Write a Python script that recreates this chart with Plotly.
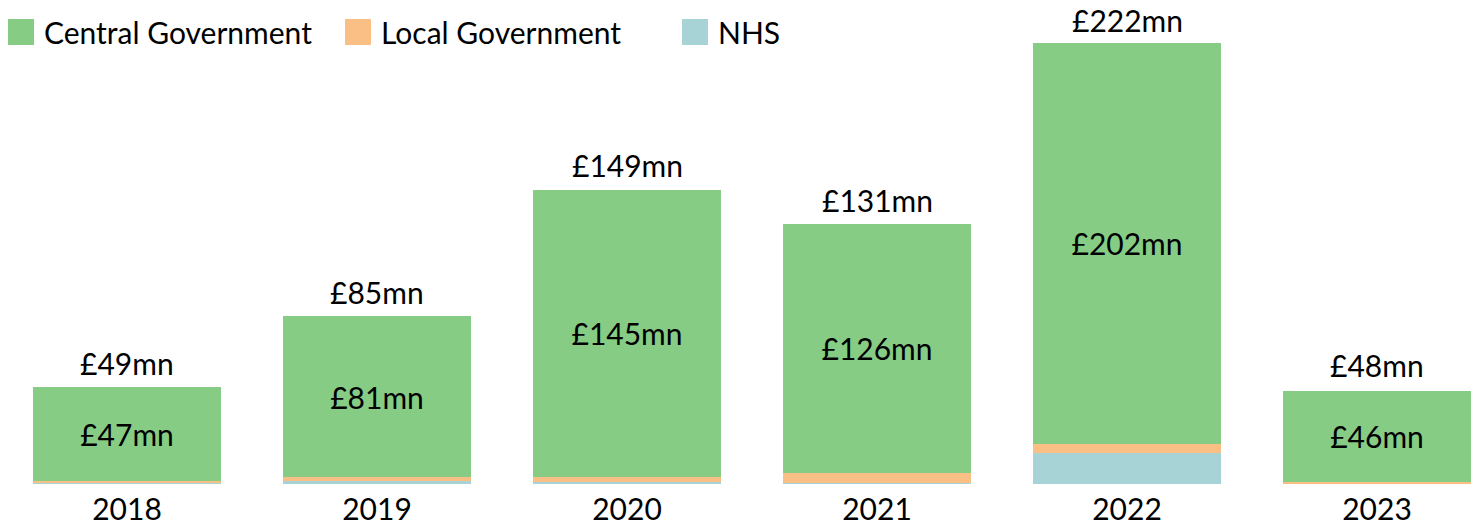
import plotly.graph_objects as go

years = ["2018", "2019", "2020", "2021", "2022", "2023"]
central = [47, 81, 145, 126, 202, 46]
local = [1.2, 1.9, 2.7, 4.7, 4.7, 0.8]
nhs = [0.5, 1.7, 0.8, 0.7, 15.7, 0.2]
totals = [49, 85, 149, 131, 222, 48]
central_labels = ["£47mn", "£81mn", "£145mn", "£126mn", "£202mn", "£46mn"]
total_labels = ["£49mn", "£85mn", "£149mn", "£131mn", "£222mn", "£48mn"]

series_names = ["Central Government", "Local Government", "NHS"]
colors = {"Central Government": "#86CC85", "Local Government": "#F9BF85", "NHS": "#A8D3D6"}

FONT = "Lato"
FS = 30
W, H = 1479, 526
MT, MB = 42, 42

fig = go.Figure()
fig.add_trace(go.Bar(x=years, y=nhs, name="NHS", marker=dict(color=colors["NHS"], line=dict(width=0))))
fig.add_trace(go.Bar(x=years, y=local, name="Local Government",
                     marker=dict(color=colors["Local Government"], line=dict(width=0))))
fig.add_trace(go.Bar(x=years, y=central, name="Central Government",
                     marker=dict(color=colors["Central Government"], line=dict(width=0)),
                     text=central_labels, textposition="inside", insidetextanchor="middle",
                     textangle=0, insidetextfont=dict(family=FONT, size=FS, color="black")))

annotations = []
for i, (tot, lab) in enumerate(zip(totals, total_labels)):
    annotations.append(dict(x=i, y=tot, xref="x", yref="y", text=lab, showarrow=False,
                            yanchor="bottom", yshift=4,
                            font=dict(family=FONT, size=FS, color="black")))

# custom legend (large square swatches)
legend_x = [8, 345, 682]
PH = H - MT - MB
shapes = []
for name, lx in zip(series_names, legend_x):
    shapes.append(dict(type="rect", xref="paper", yref="paper",
                       x0=lx / W, x1=(lx + 26) / W,
                       y0=(H - 45 - MB) / PH, y1=(H - 19 - MB) / PH,
                       fillcolor=colors[name], line=dict(width=0)))
    annotations.append(dict(x=(lx + 34) / W, y=(H - 32 - MB) / PH, xref="paper", yref="paper",
                            text=name, showarrow=False, xanchor="left", yanchor="middle",
                            font=dict(family=FONT, size=FS, color="black")))

fig.update_layout(
    width=W, height=H,
    margin=dict(l=0, r=0, t=MT, b=MB),
    barmode="stack", bargap=0.25,
    plot_bgcolor="white", paper_bgcolor="white",
    showlegend=False,
    font=dict(family=FONT, size=FS, color="black"),
    xaxis=dict(type="category", range=[-0.508, 5.408], showgrid=False, zeroline=False,
               showline=False, ticks="", ticklabelstandoff=5,
               tickfont=dict(family=FONT, size=FS, color="black")),
    yaxis=dict(range=[0, 223], visible=False, showgrid=False, zeroline=False),
    annotations=annotations, shapes=shapes,
    uniformtext=dict(minsize=FS, mode="show"),
)

fig.write_html("out.html", config={"displayModeBar": False},
               post_script="document.body.style.margin='0';document.body.style.overflow='hidden';")
